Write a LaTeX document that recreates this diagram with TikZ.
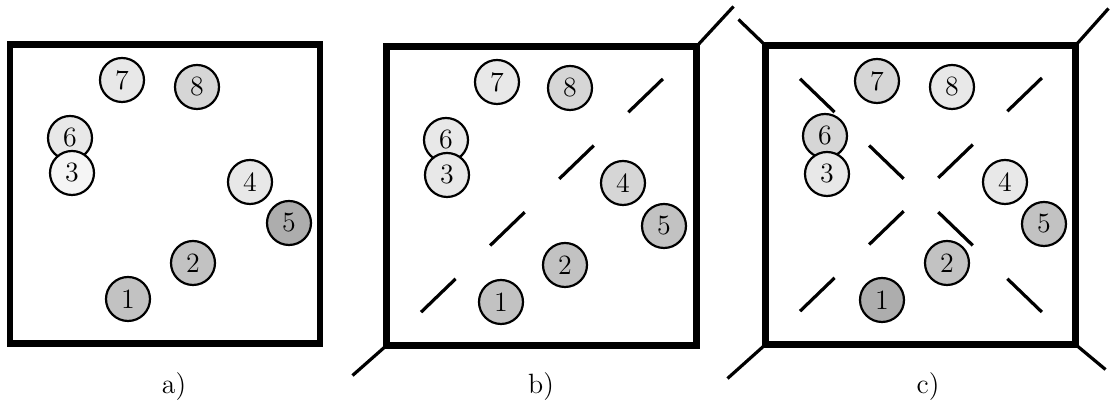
\documentclass[tikz,border=0pt]{standalone}
\usetikzlibrary{calc}
\definecolor{shadeW}{gray}{0.96}
\definecolor{shadeA}{gray}{0.91}
\definecolor{shadeB}{gray}{0.84}
\definecolor{shadeC}{gray}{0.76}
\definecolor{shadeD}{gray}{0.68}

\begin{document}
\begin{tikzpicture}[
  x=0.5bp, y=-0.5bp,
  frame/.style={
    draw, line width=3.3bp, minimum width=155bp, minimum height=149.5bp,
    inner sep=0pt, outer sep=0pt
  },
  ball/.style={
    circle, draw, line width=1.1bp, minimum size=22bp, inner sep=0pt,
    font=\fontsize{14}{16}\selectfont
  },
  cut/.style={line width=1.6bp, dash pattern=on 24bp off 24bp, dash phase=24bp},
  tail/.style={line width=1.6bp},
  caption/.style={font=\fontsize{14}{16}\selectfont},
]
\useasboundingbox (0,0) rectangle (1110,407);

% --- a) box alone ---
\begin{scope}[shift={(10,44.5)}]
  \node[frame] (fa) at (155,149.5) {};
  \node[ball, fill=shadeA] (a7) at (112,35.5) {7};
  \node[ball, fill=shadeB] (a8) at (187,42.5) {8};
  \node[ball, fill=shadeA] (a6) at (60,93.5) {6};
  \node[ball, fill=shadeW] (a3) at (62,128.5) {3};
  \node[ball, fill=shadeA] (a4) at (240,137.5) {4};
  \node[ball, fill=shadeD] (a5) at (279,178.5) {5};
  \node[ball, fill=shadeC] (a2) at (183,218.5) {2};
  \node[ball, fill=shadeC] (a1) at (118,254.5) {1};
\end{scope}

% --- b) one diagonal cut ---
\begin{scope}[shift={(386.5,46.5)}]
  \node[frame] (fb) at (155,149.5) {};
  \node[ball, fill=shadeA] (b7) at (110.5,35.5) {7};
  \node[ball, fill=shadeB] (b8) at (183.5,41.5) {8};
  \node[ball, fill=shadeA] (b6) at (59.5,93.5) {6};
  \node[ball, fill=shadeA] (b3) at (60.5,128.5) {3};
  \node[ball, fill=shadeB] (b4) at (236.5,136.5) {4};
  \node[ball, fill=shadeC] (b5) at (277.5,179.5) {5};
  \node[ball, fill=shadeC] (b2) at (178.5,218.5) {2};
  \node[ball, fill=shadeC] (b1) at (114.5,255.5) {1};
\end{scope}
\draw[cut] (fb.south west) -- (fb.north east);
\draw[tail] (fb.south west) -- ++(-34,30);
\draw[tail] (fb.north east) -- ++(37,-40);

% --- c) both diagonals ---
\begin{scope}[shift={(765.5,45.5)}]
  \node[frame] (fc) at (155,149.5) {};
  \node[ball, fill=shadeB] (c7) at (111.5,35.5) {7};
  \node[ball, fill=shadeA] (c8) at (186.5,41.5) {8};
  \node[ball, fill=shadeB] (c6) at (59.5,90.5) {6};
  \node[ball, fill=shadeA] (c3) at (61.5,128.5) {3};
  \node[ball, fill=shadeA] (c4) at (239.5,136.5) {4};
  \node[ball, fill=shadeC] (c5) at (278.5,178.5) {5};
  \node[ball, fill=shadeC] (c2) at (181.5,217.5) {2};
  \node[ball, fill=shadeD] (c1) at (116.5,254.5) {1};
\end{scope}
\draw[cut] (fc.south west) -- (fc.north east);
\draw[cut] (fc.north west) -- (fc.south east);
\draw[tail] (fc.north west) -- ++(-27,-26);
\draw[tail] (fc.north east) -- ++(33,-37);
\draw[tail] (fc.south west) -- ++(-38,34);
\draw[tail] (fc.south east) -- ++(30,25);

% --- captions ---
\node[caption] (capa) at (174,387) {a)};
\node[caption] (capb) at (541,387) {b)};
\node[caption] (capc) at (928,387) {c)};

\end{tikzpicture}
\end{document}
